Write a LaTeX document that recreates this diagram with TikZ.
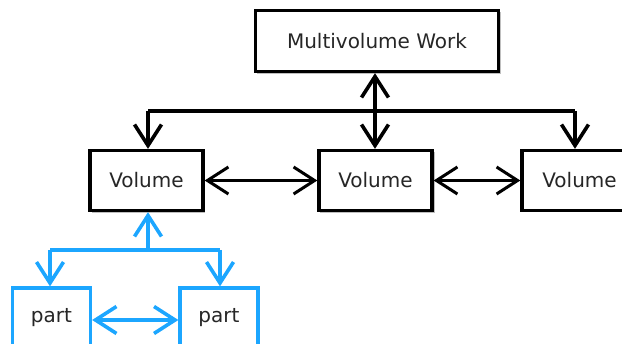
\documentclass[tikz,border=0pt]{standalone}
\usepackage{fontspec}
\setmainfont{DejaVu Sans}
\usetikzlibrary{arrows.meta}
\definecolor{partblue}{RGB}{28,166,255}
\tikzset{
  x=1pt, y=-1pt,
  box/.style={draw=black, line width=3.3pt, fill=white, minimum width=113pt, minimum height=60pt, inner sep=0pt,
    font=\fontsize{20}{24}\selectfont, text=black!85},
  bigbox/.style={box, minimum width=243pt, minimum height=61pt},
  partbox/.style={box, draw=partblue, minimum width=78pt},
  shade/.style={fill=black!25},
  link/.style={line width=3.6pt, -{Straight Barb[length=21pt, width=27pt]}},
  hconn/.style={line width=3pt, {Straight Barb[length=21pt, width=27pt]}-{Straight Barb[length=21pt, width=27pt]}},
}
\begin{document}
\begin{tikzpicture}
\useasboundingbox (0,0) rectangle (622,344);
\clip (0,0) rectangle (622,344);
% shadows
\fill[shade] (257,12) rectangle (501,74);
\fill[shade] (92,152) rectangle (205,213);
\fill[shade] (320,152) rectangle (435,213);
% boxes
\node[bigbox] (mw) at (377,41) {Multivolume Work};
\node[box] (v1) at (146.5,180.5) {Volume};
\node[box] (v2) at (375.5,180.5) {Volume};
\node[box, minimum width=115pt] (v3) at (579.5,180.5) {Volume};
\node[partbox] (p1) at (51.5,318) {part};
\node[partbox] (p2) at (219,318) {part};
% black connectors
\coordinate (bar) at (375,111);
\coordinate (barL) at (148,111);
\coordinate (barR) at (575,111);
\draw[link] (bar) -- (mw.south -| bar);
\draw[line width=3.6pt] (barL) -- (barR);
\draw[link] (bar) -- (v2.north -| bar);
\draw[link] (barL) -- (v1.north -| barL);
\draw[link] (barR) -- (v3.north -| barR);
\draw[hconn] (v1.east) -- (v2.west);
\draw[hconn] (v2.east) -- (v3.west);
% blue connectors
\begin{scope}[draw=partblue, color=partblue]
\coordinate (bb) at (148,250);
\coordinate (bbL) at (50,250);
\coordinate (bbR) at (220,250);
\draw[link] (bb) -- (v1.south -| bb);
\draw[line width=3.6pt] (bbL) -- (bbR);
\draw[link] (bbL) -- (p1.north -| bbL);
\draw[link] (bbR) -- (p2.north -| bbR);
\draw[hconn, line width=3.6pt] (p1.east |- 0,320) -- (p2.west |- 0,320);
\end{scope}
\end{tikzpicture}
\end{document}
